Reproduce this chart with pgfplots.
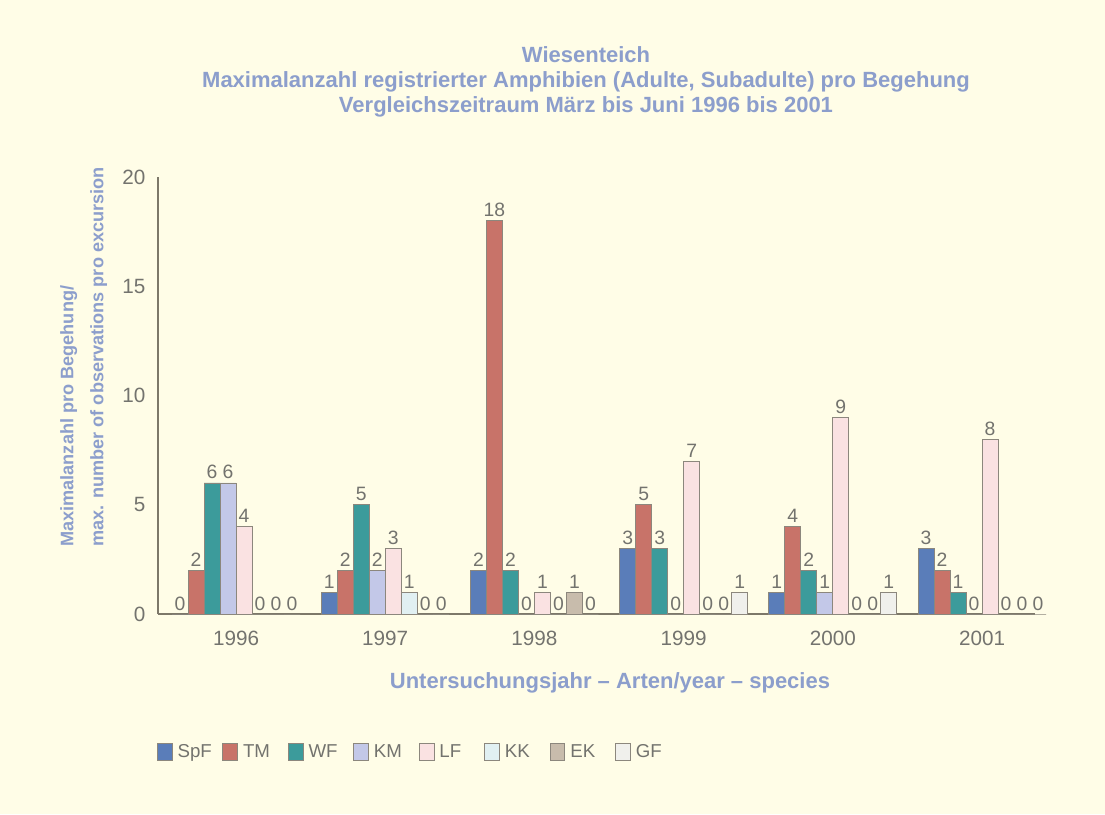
\documentclass[border=0pt]{standalone}
\usepackage{pgfplots}
\pgfplotsset{compat=1.18}
\usepackage{fontspec}
\setmainfont{Liberation Sans}
\definecolor{bg}{RGB}{255,253,231}
\definecolor{titleblue}{RGB}{140,158,204}
\definecolor{tickgray}{RGB}{115,115,110}
\definecolor{axisgray}{RGB}{125,120,105}
\definecolor{barborder}{RGB}{140,135,125}
\definecolor{cSpF}{RGB}{90,125,185}
\definecolor{cTM}{RGB}{200,115,105}
\definecolor{cWF}{RGB}{60,155,155}
\definecolor{cKM}{RGB}{195,200,232}
\definecolor{cLF}{RGB}{250,226,226}
\definecolor{cKK}{RGB}{225,240,242}
\definecolor{cEK}{RGB}{200,188,172}
\definecolor{cGF}{RGB}{240,240,236}
\begin{document}
\begin{tikzpicture}[x=0.75pt,y=0.75pt]
\fill[bg] (0,0) rectangle (1105,814);
\node[font=\bfseries\fontsize{16.5}{18.75}\selectfont, text=titleblue, align=center] at (586,814-82)
  {Wiesenteich\\Maximalanzahl registrierter Amphibien (Adulte, Subadulte) pro Begehung\\Vergleichszeitraum März bis Juni 1996 bis 2001};
\node[font=\bfseries\fontsize{13.6}{22.5}\selectfont, text=titleblue, align=left, rotate=90, anchor=north west, inner sep=0pt] at (60,814-547)
  {Maximalanzahl pro Begehung/\\max. number of observations pro excursion};
\node[font=\bfseries\fontsize{16.5}{18}\selectfont, text=titleblue] at (610,814-683)
  {Untersuchungsjahr -- Arten/year -- species};
\begin{axis}[
  at={(118.5pt,150pt)}, anchor=south west,
  scale only axis, width=657.75pt, height=327.75pt,
  ybar=0pt, bar width=12pt,
  xmin=-0.523, xmax=5.355, ymin=0, ymax=20,
  enlargelimits=false, clip=false,
  axis x line*=bottom, axis y line*=left,
  axis line style={draw=axisgray, line width=0.9pt},
  major tick length=0pt,
  xtick={0,1,2,3,4,5}, xticklabels={1996,1997,1998,1999,2000,2001},
  ytick={0,5,10,15,20},
  tick label style={font=\fontsize{15.5}{17}\selectfont, text=tickgray},
  x tick label style={yshift=-9pt},
  y tick label style={xshift=-6pt},
  /pgf/number format/assume math mode=true,
  every axis plot/.append style={draw=barborder, line width=0.6pt},
  nodes near coords,
  nodes near coords style={font=\fontsize{14.5}{16}\selectfont, text=tickgray, inner sep=2.5pt},
  legend columns=8,
  legend style={at={(-0.006,-0.316)}, anchor=west, draw=none, fill=none,
    font=\fontsize{14}{16}\selectfont, text=tickgray,
    /tikz/column sep=0pt, nodes={inner sep=1.5pt}},
  legend image code/.code={\draw[#1, draw=barborder, line width=0.6pt] (0pt,-6.2pt) rectangle (11pt,6.2pt);},
]
\addplot[fill=cSpF] coordinates {(0,0) (1,1) (2,2) (3,3) (4,1) (5,3)};
\addplot[fill=cTM] coordinates {(0,2) (1,2) (2,18) (3,5) (4,4) (5,2)};
\addplot[fill=cWF] coordinates {(0,6) (1,5) (2,2) (3,3) (4,2) (5,1)};
\addplot[fill=cKM] coordinates {(0,6) (1,2) (2,0) (3,0) (4,1) (5,0)};
\addplot[fill=cLF] coordinates {(0,4) (1,3) (2,1) (3,7) (4,9) (5,8)};
\addplot[fill=cKK] coordinates {(0,0) (1,1) (2,0) (3,0) (4,0) (5,0)};
\addplot[fill=cEK] coordinates {(0,0) (1,0) (2,1) (3,0) (4,0) (5,0)};
\addplot[fill=cGF] coordinates {(0,0) (1,0) (2,0) (3,1) (4,1) (5,0)};
\legend{\makebox[34.5pt][l]{\,SpF},\makebox[34.5pt][l]{\,TM},\makebox[34.5pt][l]{\,WF},\makebox[34.5pt][l]{\,KM},\makebox[34.5pt][l]{\,LF},\makebox[34.5pt][l]{\,KK},\makebox[34.5pt][l]{\,EK},\makebox[34.5pt][l]{\,GF}}
\end{axis}
\end{tikzpicture}
\end{document}
